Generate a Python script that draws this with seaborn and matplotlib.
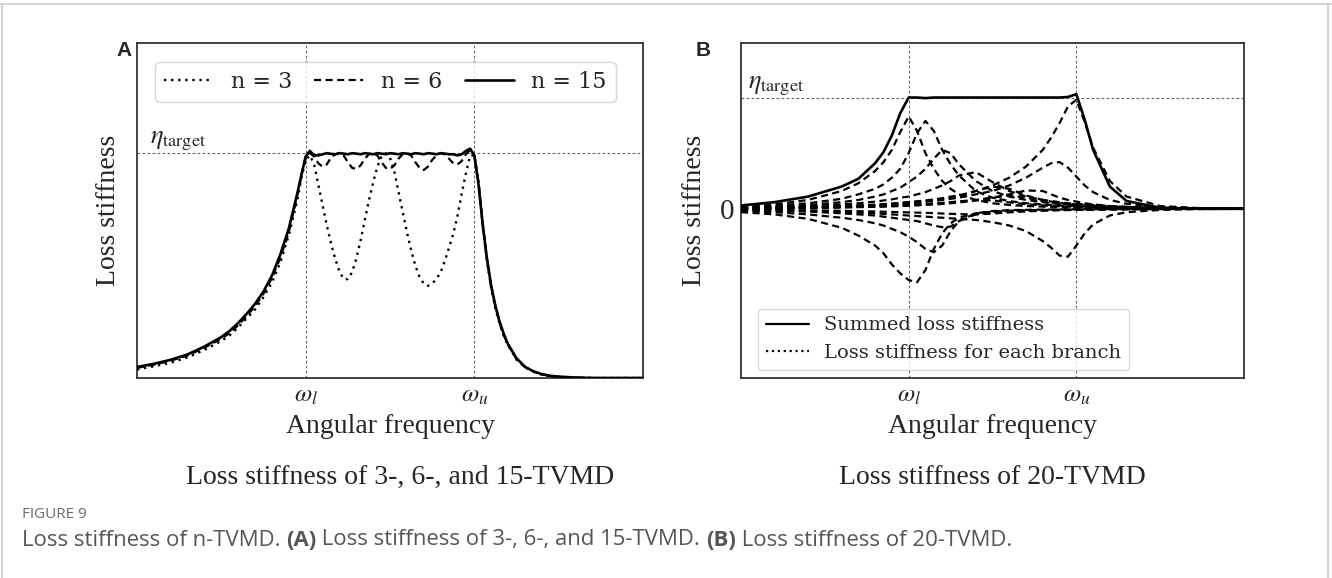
import numpy as np
import matplotlib
matplotlib.use("Agg")
import matplotlib.pyplot as plt
from matplotlib.lines import Line2D
import seaborn as sns

# ---- panel A data (frequency axis: 0..3, omega_l = 1, omega_u = 2, eta_target = 1) ----
x_a = [0.0, 0.1, 0.2, 0.3, 0.4, 0.5, 0.55, 0.6, 0.65, 0.7, 0.75, 0.8, 0.85, 0.9, 0.95,
       0.975, 1.0, 1.025, 1.05, 1.075, 1.1, 1.125, 1.15, 1.175, 1.2,
       1.225, 1.25, 1.275, 1.3, 1.325, 1.35, 1.375, 1.4, 1.425, 1.45,
       1.475, 1.5, 1.525, 1.55, 1.575, 1.6, 1.625, 1.65, 1.675, 1.7,
       1.725, 1.75, 1.775, 1.8, 1.825, 1.85, 1.875, 1.9, 1.925, 1.95,
       1.975, 2.0, 2.025, 2.05, 2.075, 2.1,
       2.125, 2.15, 2.175, 2.2, 2.25, 2.3, 2.35, 2.4, 2.45, 2.5, 2.6, 2.7, 2.85, 3.0]

n3 = [0.038, 0.052, 0.068, 0.092, 0.125, 0.165, 0.19, 0.225, 0.265, 0.305, 0.36, 0.425, 0.515, 0.635, 0.79,
      0.89, 0.97, 0.99, 0.95, 0.86, 0.77, 0.68, 0.60, 0.53, 0.475,
      0.44, 0.44, 0.47, 0.53, 0.61, 0.70, 0.79, 0.87, 0.94, 0.985,
      1.0, 0.98, 0.92, 0.83, 0.74, 0.65, 0.57, 0.50, 0.45, 0.42,
      0.41, 0.42, 0.44, 0.47, 0.52, 0.58, 0.64, 0.72, 0.82, 0.91,
      0.99, 0.99, 0.87, 0.68, 0.52, 0.40,
      0.31, 0.24, 0.185, 0.145, 0.082, 0.048, 0.028, 0.015, 0.009, 0.005, 0.002, 0.0, 0.0, 0.0]

n6 = [0.045, 0.059, 0.077, 0.10, 0.135, 0.175, 0.20, 0.235, 0.275, 0.32, 0.375, 0.445, 0.535, 0.65, 0.81,
      0.90, 0.98, 1.0, 0.985, 0.955, 0.94, 0.95, 0.98, 0.995, 1.0,
      0.99, 0.96, 0.935, 0.93, 0.945, 0.975, 0.995, 1.0, 0.99, 0.96,
      0.935, 0.93, 0.945, 0.975, 0.995, 1.0, 0.99, 0.96, 0.935, 0.925,
      0.94, 0.97, 0.99, 1.0, 0.995, 0.975, 0.955, 0.95, 0.965, 0.995,
      1.015, 0.99, 0.87, 0.685, 0.53, 0.405,
      0.32, 0.245, 0.19, 0.148, 0.085, 0.049, 0.029, 0.016, 0.01, 0.006, 0.002, 0.0, 0.0, 0.0]

n15 = [0.049, 0.063, 0.081, 0.105, 0.14, 0.182, 0.21, 0.245, 0.285, 0.33, 0.385, 0.455, 0.55, 0.665, 0.82,
       0.905, 0.985, 1.01, 0.99, 0.99, 0.995, 1.0, 0.997, 0.995, 1.0,
       0.998, 0.995, 1.0, 0.998, 0.995, 1.0, 0.998, 0.995, 1.0, 0.998,
       0.995, 1.0, 0.998, 0.995, 1.0, 0.998, 0.995, 1.0, 0.998, 0.995,
       1.0, 0.998, 0.995, 1.0, 0.998, 0.995, 0.995, 0.99, 0.995, 1.01,
       1.02, 0.99, 0.86, 0.68, 0.53, 0.41,
       0.32, 0.25, 0.195, 0.15, 0.088, 0.05, 0.03, 0.017, 0.01, 0.006, 0.002, 0.0, 0.0, 0.0]

# ---- panel B data (20-TVMD) ----
x_b = [0.0, 0.2, 0.4, 0.6, 0.7, 0.8, 0.85, 0.9,
       0.95, 1.0, 1.05, 1.1, 1.15, 1.2, 1.25, 1.3,
       1.4, 1.5, 1.6, 1.7, 1.8, 1.85, 1.9, 1.95,
       2.0, 2.05, 2.1, 2.2, 2.3, 2.5, 2.75, 3.0]

summed = [0.03, 0.06, 0.11, 0.20, 0.27, 0.41, 0.51, 0.66,
          0.86, 1.0, 1.0, 0.995, 1.0, 1.0, 1.0, 1.0,
          1.0, 1.0, 1.0, 1.0, 1.0, 1.0, 1.0, 1.005,
          1.03, 0.80, 0.53, 0.20, 0.07, 0.01, 0.0, 0.0]

br_p1 = [0.02, 0.04, 0.08, 0.16, 0.23, 0.34, 0.42, 0.53,
         0.69, 0.83, 0.70, 0.50, 0.36, 0.25, 0.18, 0.13,
         0.08, 0.05, 0.035, 0.025, 0.02, 0.018, 0.015, 0.013,
         0.012, 0.01, 0.009, 0.007, 0.005, 0.003, 0.001, 0.0]
br_p2 = [0.015, 0.03, 0.05, 0.09, 0.13, 0.18, 0.22, 0.28,
         0.36, 0.50, 0.68, 0.79, 0.70, 0.53, 0.40, 0.30,
         0.16, 0.10, 0.07, 0.05, 0.04, 0.035, 0.03, 0.027,
         0.024, 0.02, 0.018, 0.014, 0.01, 0.005, 0.002, 0.0]
br_p3 = [0.01, 0.02, 0.035, 0.06, 0.08, 0.11, 0.13, 0.16,
         0.19, 0.24, 0.29, 0.36, 0.45, 0.53, 0.50, 0.40,
         0.25, 0.16, 0.11, 0.08, 0.06, 0.05, 0.045, 0.04,
         0.035, 0.03, 0.027, 0.02, 0.015, 0.008, 0.003, 0.001]
br_p4 = [0.008, 0.015, 0.025, 0.04, 0.05, 0.065, 0.075, 0.085,
         0.10, 0.11, 0.13, 0.15, 0.18, 0.21, 0.25, 0.30,
         0.33, 0.24, 0.16, 0.11, 0.08, 0.07, 0.06, 0.05,
         0.045, 0.04, 0.035, 0.025, 0.018, 0.01, 0.004, 0.001]
br_p5 = [0.005, 0.01, 0.015, 0.025, 0.03, 0.035, 0.04, 0.045,
         0.05, 0.06, 0.065, 0.07, 0.08, 0.09, 0.10, 0.115,
         0.16, 0.20, 0.18, 0.12, 0.08, 0.065, 0.055, 0.045,
         0.04, 0.035, 0.03, 0.02, 0.015, 0.008, 0.003, 0.001]
br_p6 = [0.003, 0.006, 0.01, 0.015, 0.018, 0.022, 0.025, 0.028,
         0.03, 0.034, 0.038, 0.042, 0.047, 0.052, 0.058, 0.065,
         0.08, 0.10, 0.13, 0.165, 0.16, 0.13, 0.10, 0.08,
         0.065, 0.05, 0.04, 0.025, 0.016, 0.007, 0.002, 0.0]
br_p7 = [0.002, 0.005, 0.01, 0.02, 0.025, 0.03, 0.035, 0.04,
         0.045, 0.05, 0.056, 0.063, 0.07, 0.08, 0.09, 0.10,
         0.13, 0.16, 0.21, 0.28, 0.37, 0.41, 0.42, 0.37,
         0.29, 0.21, 0.15, 0.08, 0.045, 0.015, 0.004, 0.001]
br_p8 = [0.004, 0.008, 0.014, 0.025, 0.03, 0.038, 0.042, 0.047,
         0.053, 0.06, 0.067, 0.075, 0.085, 0.095, 0.11, 0.12,
         0.16, 0.21, 0.28, 0.38, 0.53, 0.64, 0.77, 0.92,
         0.98, 0.78, 0.55, 0.25, 0.11, 0.025, 0.005, 0.001]
br_s1 = [0.003, 0.005, 0.008, 0.012, 0.015, 0.018, 0.02, 0.022,
         0.025, 0.028, 0.031, 0.035, 0.039, 0.044, 0.05, 0.057,
         0.075, 0.10, 0.12, 0.10, 0.07, 0.058, 0.048, 0.04,
         0.034, 0.028, 0.024, 0.017, 0.012, 0.006, 0.002, 0.0]
br_s2 = [0.004, 0.007, 0.011, 0.016, 0.019, 0.023, 0.025, 0.028,
         0.031, 0.034, 0.038, 0.042, 0.047, 0.053, 0.06, 0.067,
         0.078, 0.076, 0.058, 0.042, 0.031, 0.027, 0.023, 0.02,
         0.018, 0.016, 0.014, 0.01, 0.008, 0.004, 0.001, 0.0]
br_n1 = [-0.03, -0.05, -0.09, -0.17, -0.24, -0.33, -0.40, -0.50,
         -0.58, -0.64, -0.66, -0.55, -0.36, -0.22, -0.13, -0.08,
         -0.04, -0.025, -0.018, -0.013, -0.01, -0.009, -0.008, -0.007,
         -0.006, -0.005, -0.004, -0.003, -0.002, -0.001, 0.0, 0.0]
br_n2 = [-0.02, -0.03, -0.05, -0.08, -0.10, -0.13, -0.15, -0.18,
         -0.21, -0.25, -0.30, -0.36, -0.39, -0.33, -0.20, -0.11,
         -0.05, -0.03, -0.02, -0.015, -0.012, -0.01, -0.009, -0.008,
         -0.007, -0.006, -0.005, -0.004, -0.003, -0.001, 0.0, 0.0]
br_n3 = [-0.01, -0.015, -0.025, -0.04, -0.05, -0.06, -0.07, -0.08,
         -0.09, -0.10, -0.11, -0.13, -0.15, -0.165, -0.16, -0.11,
         -0.04, -0.02, -0.012, -0.009, -0.007, -0.006, -0.005, -0.005,
         -0.004, -0.004, -0.003, -0.002, -0.002, -0.001, 0.0, 0.0]
br_n4 = [-0.01, -0.015, -0.02, -0.03, -0.035, -0.04, -0.045, -0.05,
         -0.055, -0.06, -0.065, -0.07, -0.075, -0.08, -0.085, -0.09,
         -0.10, -0.12, -0.15, -0.20, -0.29, -0.35, -0.42, -0.43,
         -0.33, -0.22, -0.14, -0.06, -0.03, -0.01, -0.002, 0.0]
br_s3 = [-0.006, -0.009, -0.013, -0.018, -0.021, -0.024, -0.026, -0.028,
         -0.03, -0.032, -0.034, -0.036, -0.039, -0.042, -0.045, -0.048,
         -0.05, -0.043, -0.032, -0.023, -0.017, -0.015, -0.013, -0.011,
         -0.01, -0.009, -0.008, -0.006, -0.004, -0.002, -0.001, 0.0]

branches = [br_p1, br_p2, br_p3, br_p4, br_p5, br_p6, br_p7, br_p8,
            br_s1, br_s2, br_n1, br_n2, br_n3, br_n4, br_s3]

freq_ticks = [1, 2]
freq_labels = [r"$\omega_l$", r"$\omega_u$"]
eta_target = 1.0

# ---- style ----
sns.set_style("white")
plt.rcParams["font.family"] = ["Liberation Serif", "DejaVu Serif"]
plt.rcParams["mathtext.fontset"] = "stix"

W, H = 1332, 578
fig = plt.figure(figsize=(W / 100, H / 100), dpi=100)
ax_a = fig.add_axes([137 / W, 1 - 378 / H, 506 / W, 335 / H])
ax_b = fig.add_axes([741 / W, 1 - 378 / H, 503 / W, 335 / H])

dash = (0, (3.2, 2.0))
dot = (0, (1.0, 2.0))
ref_kw = dict(color="#666666", lw=0.8, linestyle=(0, (2.5, 2.0)), zorder=1)

# panel A
sns.lineplot(x=x_a, y=n3, ax=ax_a, color="black", lw=1.7, linestyle=dot, label="n = 3", zorder=3)
sns.lineplot(x=x_a, y=n6, ax=ax_a, color="black", lw=1.6, linestyle=dash, label="n = 6", zorder=3)
sns.lineplot(x=x_a, y=n15, ax=ax_a, color="black", lw=1.9, label="n = 15", zorder=4)
ax_a.set_ylim(0, 1.49)

# panel B
for br in branches:
    sns.lineplot(x=x_b, y=br, ax=ax_b, color="black", lw=1.6, linestyle=dash, zorder=3)
sns.lineplot(x=x_b, y=summed, ax=ax_b, color="black", lw=1.9, zorder=4)
ax_b.set_ylim(-1.52, 1.49)

for ax in (ax_a, ax_b):
    ax.set_xlim(0, 3)
    for xv in freq_ticks:
        ax.axvline(xv, **ref_kw)
    ax.axhline(eta_target, **ref_kw)
    ax.set_xticks(freq_ticks)
    ax.set_xticklabels(freq_labels, fontsize=18)
    ax.tick_params(axis="x", length=0, pad=5)
    ax.tick_params(axis="y", length=0)
    for s in ax.spines.values():
        s.set_color("#333333")
        s.set_linewidth(1.3)
    ax.set_xlabel("Angular frequency", fontsize=20)
    ax.xaxis.set_label_coords(0.5, -0.163)
    ax.xaxis.label.set_va("baseline")
    ax.set_ylabel("Loss stiffness", fontsize=20)

ax_a.set_yticks([])
ax_b.set_yticks([0])
ax_b.set_yticklabels(["0"], fontsize=21)
ax_b.tick_params(axis="y", pad=5)
ax_a.yaxis.set_label_coords(-0.032, 0.5)
ax_b.yaxis.set_label_coords(-0.068, 0.5)

ax_a.text(0.075, eta_target, r"$\eta_{\mathrm{target}}$", fontsize=19, va="bottom", ha="left")
ax_b.text(0.04, eta_target, r"$\eta_{\mathrm{target}}$", fontsize=19, va="bottom", ha="left")

leg_a = ax_a.legend(loc="upper center", bbox_to_anchor=(0.491, 0.943), ncol=3, borderaxespad=0,
                    prop={"family": "DejaVu Serif", "size": 16}, handlelength=2.2,
                    columnspacing=1.0, frameon=True, fancybox=True)
leg_a.get_frame().set_edgecolor("#cccccc")

handles_b = [Line2D([], [], color="black", lw=1.6),
             Line2D([], [], color="black", lw=1.6, linestyle=":")]
leg_b = ax_b.legend(handles_b, ["Summed loss stiffness", "Loss stiffness for each branch"],
                    loc="lower left", bbox_to_anchor=(0.034, 0.024), borderaxespad=0,
                    prop={"family": "DejaVu Serif", "size": 14}, handlelength=2.2,
                    frameon=True, fancybox=True)
leg_b.get_frame().set_edgecolor("#cccccc")

# panel letters and sub-titles
fig.text(124 / W, 1 - 50 / H, "A", family="Liberation Sans", weight="bold", fontsize=15, ha="center", va="center")
fig.text(703 / W, 1 - 50 / H, "B", family="Liberation Sans", weight="bold", fontsize=15, ha="center", va="center")
fig.text(400 / W, 1 - 484 / H, "Loss stiffness of 3-, 6-, and 15-TVMD", fontsize=20, ha="center", va="baseline")
fig.text(992 / W, 1 - 484 / H, "Loss stiffness of 20-TVMD", fontsize=20, ha="center", va="baseline")

# page frame
frame_kw = dict(color="#d4d4d4", lw=1.5, transform=fig.transFigure)
fig.add_artist(Line2D([0, 1], [1 - 4 / H, 1 - 4 / H], **frame_kw))
fig.add_artist(Line2D([2 / W, 2 / W], [0, 1 - 4 / H], **frame_kw))
fig.add_artist(Line2D([1328 / W, 1328 / W], [0, 1 - 4 / H], **frame_kw))

# caption
cap_font = ["Open Sans", "DejaVu Sans"]
fig.text(22 / W, 1 - 514 / H, "FIGURE 9", family=cap_font, fontsize=11, color="#6a6a6a", va="center")
segments = [("Loss stiffness of n-TVMD.\u00a0", "normal"), ("(A)", "bold"),
            ("\u00a0Loss stiffness of 3-, 6-, and 15-TVMD.\u00a0", "normal"), ("(B)", "bold"),
            ("\u00a0Loss stiffness of 20-TVMD.", "normal")]
fig.canvas.draw()
renderer = fig.canvas.get_renderer()
xpos = 22 / W
for txt, wt in segments:
    t = fig.text(xpos, 1 - 540 / H, txt, family=cap_font, fontsize=15.9, weight=wt,
                 color="#555555", va="center")
    xpos += t.get_window_extent(renderer).width / W

fig.savefig("out.png", dpi=100)
